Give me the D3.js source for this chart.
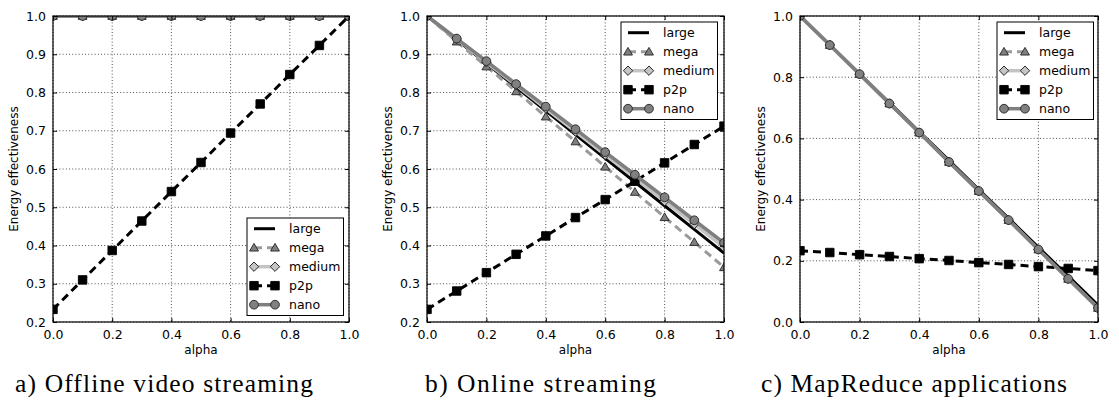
<!DOCTYPE html>
<html>
<head>
<meta charset="utf-8">
<script src="https://cdn.jsdelivr.net/npm/d3@7"></script>
<style>
  html, body { margin: 0; padding: 0; background: #fff; }
  svg { display: block; }
</style>
</head>
<body>
<svg id="fig" width="1119" height="402"></svg>
<script>
// alpha sample points shared by every panel
const alphaValues = [0.0, 0.1, 0.2, 0.3, 0.4, 0.5, 0.6, 0.7, 0.8, 0.9, 1.0];
const seriesNames = ["large", "mega", "medium", "p2p", "nano"];

// a) Offline video streaming
const offlineLarge  = [1, 1, 1, 1, 1, 1, 1, 1, 1, 1, 1];
const offlineMega   = [1, 1, 1, 1, 1, 1, 1, 1, 1, 1, 1];
const offlineMedium = [1, 1, 1, 1, 1, 1, 1, 1, 1, 1, 1];
const offlineP2p    = [0.233, 0.310, 0.387, 0.464, 0.541, 0.617, 0.694, 0.770, 0.847, 0.923, 1.0];
const offlineNano   = [1, 1, 1, 1, 1, 1, 1, 1, 1, 1, 1];

// b) Online streaming
const onlineLarge  = [1.0, 0.938, 0.876, 0.814, 0.752, 0.690, 0.628, 0.566, 0.504, 0.442, 0.380];
const onlineMega   = [1.0, 0.933, 0.868, 0.803, 0.737, 0.672, 0.606, 0.540, 0.474, 0.409, 0.343];
const onlineMedium = [1.0, 0.940, 0.879, 0.819, 0.758, 0.698, 0.637, 0.577, 0.516, 0.456, 0.395];
const onlineP2p    = [0.233, 0.281, 0.329, 0.377, 0.425, 0.473, 0.520, 0.568, 0.616, 0.664, 0.712];
const onlineNano   = [1.0, 0.941, 0.882, 0.822, 0.763, 0.704, 0.644, 0.585, 0.526, 0.466, 0.407];

// c) MapReduce applications
const mapreduceLarge  = [1.0, 0.906, 0.811, 0.717, 0.622, 0.528, 0.433, 0.339, 0.244, 0.150, 0.055];
const mapreduceMega   = [1.0, 0.905, 0.810, 0.714, 0.619, 0.523, 0.428, 0.333, 0.237, 0.141, 0.046];
const mapreduceMedium = [1.0, 0.905, 0.810, 0.714, 0.619, 0.523, 0.428, 0.333, 0.237, 0.141, 0.046];
const mapreduceP2p    = [0.233, 0.227, 0.220, 0.214, 0.207, 0.201, 0.194, 0.188, 0.181, 0.175, 0.168];
const mapreduceNano   = [1.0, 0.905, 0.810, 0.714, 0.619, 0.523, 0.428, 0.333, 0.237, 0.141, 0.046];

// tick values
const xTicks = [0.0, 0.2, 0.4, 0.6, 0.8, 1.0];
const yTicksTenths = [0.2, 0.3, 0.4, 0.5, 0.6, 0.7, 0.8, 0.9, 1.0];
const yTicksFifths = [0.0, 0.2, 0.4, 0.6, 0.8, 1.0];

const captions = ["a) Offline video streaming", "b) Online streaming", "c) MapReduce applications"];

// drawing styles per series
const styles = {
  large:  { stroke: "#000",    width: 3,   dash: null,  marker: null,       fill: null },
  mega:   { stroke: "#9a9a9a", width: 3,   dash: "8,5", marker: "triangle", fill: "#7f7f7f" },
  medium: { stroke: "#c4c4c4", width: 3.5, dash: null,  marker: "diamond",  fill: "#c4c4c4" },
  p2p:    { stroke: "#000",    width: 3,   dash: "8,5", marker: "square",   fill: "#000" },
  nano:   { stroke: "#7f7f7f", width: 3.5, dash: null,  marker: "circle",   fill: "#808080" }
};

const panels = [
  { left: 53,  right: 349,  top: 16, bottom: 322, yDomain: [0.2, 1.0], yTicks: yTicksTenths,
    data: { large: offlineLarge, mega: offlineMega, medium: offlineMedium, p2p: offlineP2p, nano: offlineNano },
    legend: { x: 247, y: 218 }, caption: { x: 15, len: 298 } },
  { left: 427, right: 724,  top: 16, bottom: 322, yDomain: [0.2, 1.0], yTicks: yTicksTenths,
    data: { large: onlineLarge, mega: onlineMega, medium: onlineMedium, p2p: onlineP2p, nano: onlineNano },
    legend: { x: 621, y: 22 }, caption: { x: 425, len: 231 } },
  { left: 800, right: 1098, top: 16, bottom: 322, yDomain: [0.0, 1.0], yTicks: yTicksFifths,
    data: { large: mapreduceLarge, mega: mapreduceMega, medium: mapreduceMedium, p2p: mapreduceP2p, nano: mapreduceNano },
    legend: { x: 997, y: 22 }, caption: { x: 761, len: 306 } }
];

const svg = d3.select("#fig");
const sansFont = "DejaVu Sans, sans-serif";

function markerPath(kind) {
  switch (kind) {
    case "triangle": return d3.symbol().type(d3.symbolTriangle).size(34)();
    case "square":   return d3.symbol().type(d3.symbolSquare).size(72)();
    case "circle":   return d3.symbol().type(d3.symbolCircle).size(60)();
    case "diamond":  return d3.symbol().type(d3.symbolSquare).size(44)();
  }
  return null;
}

function drawMarker(g, kind, x, y, st) {
  const p = g.append("path")
    .attr("d", markerPath(kind))
    .attr("fill", st.fill)
    .attr("stroke", kind === "square" ? "#000" : "#222")
    .attr("stroke-width", 0.9);
  if (kind === "diamond") p.attr("transform", `translate(${x},${y}) rotate(45)`);
  else if (kind === "triangle") p.attr("transform", `translate(${x},${y + 0.8})`);
  else p.attr("transform", `translate(${x},${y})`);
}

panels.forEach((pn, i) => {
  const x = d3.scaleLinear().domain([0, 1]).range([pn.left, pn.right]);
  const y = d3.scaleLinear().domain(pn.yDomain).range([pn.bottom, pn.top]);
  const w = pn.right - pn.left, h = pn.bottom - pn.top;
  const g = svg.append("g");

  const clipId = "clip" + i;
  svg.append("clipPath").attr("id", clipId)
    .append("rect").attr("x", pn.left).attr("y", pn.top).attr("width", w).attr("height", h);

  // dotted grid
  const grid = g.append("g").attr("stroke", "#000").attr("stroke-width", 0.8)
    .attr("stroke-dasharray", "1,2.2").attr("opacity", 0.85);
  xTicks.forEach(t => grid.append("line")
    .attr("x1", x(t)).attr("x2", x(t)).attr("y1", pn.top).attr("y2", pn.bottom));
  pn.yTicks.forEach(t => grid.append("line")
    .attr("x1", pn.left).attr("x2", pn.right).attr("y1", y(t)).attr("y2", y(t)));

  // series
  const plot = g.append("g").attr("clip-path", `url(#${clipId})`);
  const line = d3.line().x((d, k) => x(alphaValues[k])).y(d => y(d));
  seriesNames.forEach(name => {
    const st = styles[name];
    const vals = pn.data[name];
    plot.append("path").attr("d", line(vals))
      .attr("fill", "none").attr("stroke", st.stroke).attr("stroke-width", st.width)
      .attr("stroke-dasharray", st.dash).attr("stroke-linejoin", "round");
    if (st.marker) vals.forEach((v, k) => drawMarker(plot, st.marker, x(alphaValues[k]), y(v), st));
  });

  // axes: inward ticks on all four sides, labels on bottom and left
  const tickLen = 4;
  const axB = d3.axisBottom(x).tickValues(xTicks).tickFormat(d3.format(".1f")).tickSizeInner(-tickLen).tickSizeOuter(0).tickPadding(8);
  const axT = d3.axisTop(x).tickValues(xTicks).tickFormat("").tickSizeInner(-tickLen).tickSizeOuter(0);
  const axL = d3.axisLeft(y).tickValues(pn.yTicks).tickFormat(d3.format(".1f")).tickSizeInner(-tickLen).tickSizeOuter(0).tickPadding(7);
  const axR = d3.axisRight(y).tickValues(pn.yTicks).tickFormat("").tickSizeInner(-tickLen).tickSizeOuter(0);
  const axes = [
    g.append("g").attr("transform", `translate(0,${pn.bottom})`).call(axB),
    g.append("g").attr("transform", `translate(0,${pn.top})`).call(axT),
    g.append("g").attr("transform", `translate(${pn.left},0)`).call(axL),
    g.append("g").attr("transform", `translate(${pn.right},0)`).call(axR)
  ];
  axes.forEach(a => {
    a.select(".domain").remove();
    a.selectAll(".tick line").attr("stroke", "#000").attr("stroke-width", 1);
    a.selectAll("text").attr("font-family", sansFont).attr("font-size", 12.5).attr("fill", "#000");
  });

  // frame
  g.append("rect").attr("x", pn.left).attr("y", pn.top).attr("width", w).attr("height", h)
    .attr("fill", "none").attr("stroke", "#000").attr("stroke-width", 1.2);

  // axis titles
  g.append("text").attr("x", (pn.left + pn.right) / 2).attr("y", 354)
    .attr("text-anchor", "middle").attr("font-family", sansFont).attr("font-size", 12)
    .text("alpha");
  g.append("text").attr("transform", `translate(${pn.left - 35},${(pn.top + pn.bottom) / 2}) rotate(-90)`)
    .attr("text-anchor", "middle").attr("font-family", sansFont).attr("font-size", 12)
    .text("Energy effectiveness");

  // legend
  const lg = g.append("g").attr("transform", `translate(${pn.legend.x},${pn.legend.y})`);
  lg.append("rect").attr("x", 0).attr("y", 0).attr("width", 96.5).attr("height", 97.5)
    .attr("fill", "#fff").attr("stroke", "#000").attr("stroke-width", 1);
  seriesNames.forEach((name, r) => {
    const st = styles[name];
    const cy = 10.7 + r * 19;
    lg.append("line").attr("x1", 7).attr("x2", 28).attr("y1", cy).attr("y2", cy)
      .attr("stroke", st.stroke).attr("stroke-width", st.width)
      .attr("stroke-dasharray", st.dash ? "8,5" : null);
    if (st.marker) { drawMarker(lg, st.marker, 7, cy, st); drawMarker(lg, st.marker, 28, cy, st); }
    lg.append("text").attr("x", 42).attr("y", cy).attr("dy", "0.36em")
      .attr("font-family", sansFont).attr("font-size", 12.5).text(name);
  });

  // caption
  svg.append("text").attr("x", pn.caption.x).attr("y", 391.5)
    .attr("font-family", "Liberation Serif, serif").attr("font-size", 25.5)
    .attr("textLength", pn.caption.len).attr("lengthAdjust", "spacing")
    .text(captions[i]);
});
</script>
</body>
</html>
